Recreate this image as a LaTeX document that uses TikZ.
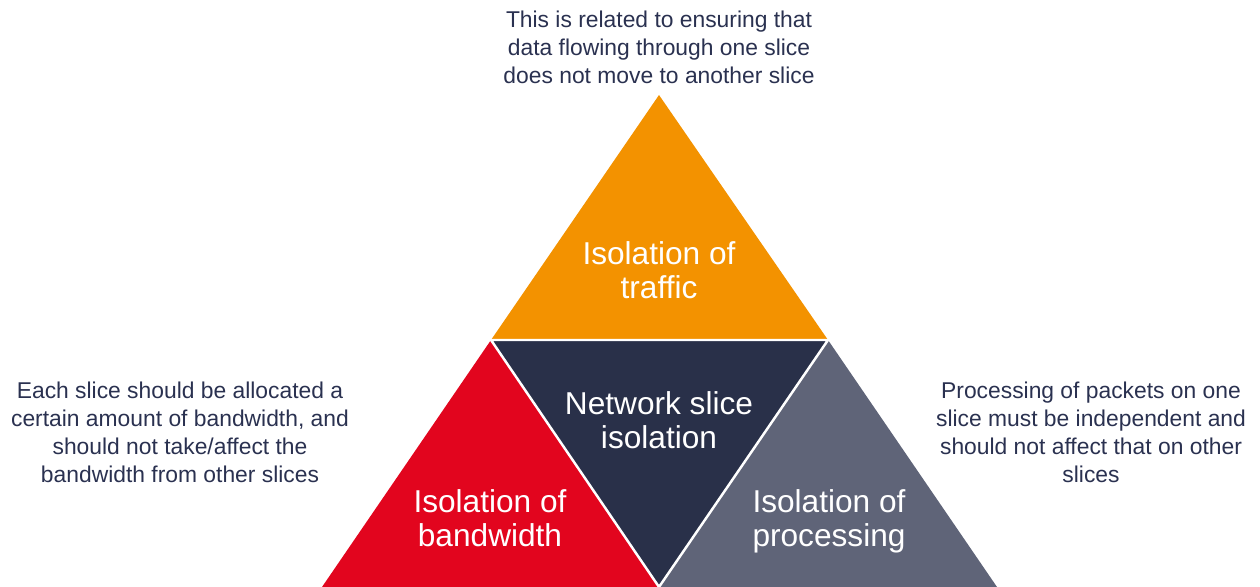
\documentclass[tikz,border=0pt]{standalone}
\usepackage{fontspec}
\setmainfont{Liberation Sans}
\definecolor{sliceorange}{HTML}{F39200}
\definecolor{slicered}{HTML}{E2051E}
\definecolor{slicegray}{HTML}{5F6478}
\definecolor{slicenavy}{HTML}{293049}
\definecolor{textnavy}{HTML}{2A3150}
\tikzset{
  title/.style={text=white, align=center, font=\fontsize{18}{19.4}\selectfont},
  note/.style={text=textnavy, align=center, font=\fontsize{13}{15.9}\selectfont},
  gap/.style={white, line width=1.4pt}
}
\begin{document}
\begin{tikzpicture}[x=0.02cm, y=-0.02cm]
        \useasboundingbox (0,0) rectangle (1260,587);
        \clip (0,0) rectangle (1260,587);

        % Corners of the pyramid
        \coordinate (top) at (659,95);
        \coordinate (midL) at (491,340);
        \coordinate (midR) at (828,340);
        \coordinate (botL) at (322,587);
        \coordinate (botM) at (659,587);
        \coordinate (botR) at (997,587);

        % Triangles
        \fill[sliceorange] (top) -- (midL) -- (midR) -- cycle;
        \fill[slicered] (midL) -- (botL) -- (botM) -- cycle;
        \fill[slicegray] (midR) -- (botM) -- (botR) -- cycle;
        \fill[slicenavy] (midL) -- (midR) -- (botM) -- cycle;
        \draw[gap] (midL) -- (midR) -- (botM) -- cycle;

        % Labels in the triangles
        \node[title] (traffic) at (659,270) {Isolation of\\traffic};
        \node[title] (core) at (659,420) {Network slice\\isolation};
        \node[title] (bandwidth) at (490,518) {Isolation of\\bandwidth};
        \node[title] (processing) at (829,521) {Isolation of\\processing};

        % Notes around
        \node[note] (trafficnote) at (659,47) {This is related to ensuring that\\data flowing through one slice\\does not move to another slice};
        \node[note] (bandwidthnote) at (180,432) {Each slice should be allocated a\\certain amount of bandwidth, and\\should not take/affect the\\bandwidth from other slices};
        \node[note] (processingnote) at (1091,432) {Processing of packets on one\\slice must be independent and\\should not affect that on other\\slices};
\end{tikzpicture}
\end{document}
